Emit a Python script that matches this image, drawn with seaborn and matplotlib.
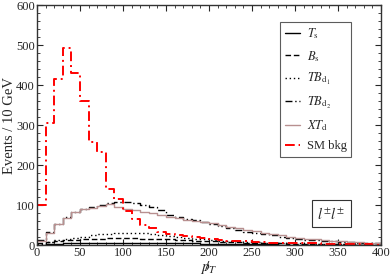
import numpy as np
import pandas as pd
import seaborn as sns
import matplotlib
matplotlib.use("Agg")
import matplotlib.pyplot as plt
from matplotlib.lines import Line2D
from matplotlib.ticker import MultipleLocator

# 10 GeV bins from 0 to 400
edges = list(range(0, 410, 10))
centers = [e + 5 for e in edges[:-1]]

T_s = [1, 2, 3, 4, 4, 5, 5, 6, 6, 6, 6, 6, 6, 5, 5, 5, 4, 4, 4, 3,
       3, 3, 3, 2, 2, 2, 2, 2, 1, 1, 1, 1, 1, 1, 1, 1, 0, 0, 0, 0]
B_s = [4, 8, 10, 12, 13, 14, 15, 16, 17, 17, 17, 17, 16, 16, 15, 14, 13, 12, 11, 10,
       9, 8, 7, 7, 6, 5, 5, 4, 4, 3, 3, 3, 2, 2, 2, 2, 1, 1, 1, 1]
TB_d1 = [3, 8, 12, 15, 18, 21, 24, 27, 28, 29, 30, 30, 29, 27, 25, 22, 20, 18, 16, 14,
         13, 11, 10, 9, 8, 7, 6, 5, 5, 4, 4, 3, 3, 3, 2, 2, 2, 1, 1, 1]
TB_d2 = [12, 33, 52, 69, 83, 90, 95, 99, 106, 108, 108, 104, 100, 96, 87, 75, 70, 66, 62, 58,
         52, 47, 42, 37, 33, 30, 27, 24, 21, 18, 15, 13, 12, 10, 9, 8, 7, 6, 5, 5]
XT_d = [10, 30, 52, 68, 82, 90, 93, 97, 102, 96, 90, 87, 82, 80, 75, 70, 67, 62, 60, 58,
        54, 50, 46, 42, 38, 34, 30, 27, 24, 21, 18, 16, 14, 12, 11, 9, 8, 7, 6, 5]
SM_bkg = [100, 305, 414, 492, 430, 360, 258, 232, 140, 115, 85, 64, 50, 42, 32, 28, 25, 22, 20, 17,
          14, 12, 11, 10, 9, 8, 7, 6, 6, 5, 5, 4, 4, 3, 3, 3, 2, 2, 2, 1]

labels = [r'$T_{\rm s}$', r'$B_{\rm s}$', r'$TB_{\rm d_1}$', r'$TB_{\rm d_2}$',
          r'$XT_{\rm d}$', 'SM bkg']

sns.set_style("ticks")
plt.rcParams['font.family'] = ['Liberation Serif', 'DejaVu Serif']
plt.rcParams['mathtext.fontset'] = 'stix'
plt.rcParams['font.size'] = 9

fig = plt.figure(figsize=(3.91, 2.78), dpi=100)
ax = fig.add_axes([0.0946, 0.1187, 0.8798, 0.8633])

series = [
    (T_s, 'black', '-', 1.0),
    (B_s, 'black', (0, (4, 2)), 1.0),
    (TB_d1, 'black', (0, (1, 2)), 1.0),
    (TB_d2, 'black', (0, (5, 2, 1, 2)), 1.0),
    (XT_d, '#b89090', '-', 1.0),
    (SM_bkg, '#ff0000', (0, (5, 2, 1, 2)), 1.4),
]

handles = []
for (vals, col, ls, lw), lab in zip(series, labels):
    df = pd.DataFrame({'met': centers, 'events': vals})
    sns.histplot(data=df, x='met', weights='events', bins=edges, element="step",
                 fill=False, color=col, linestyle=ls, linewidth=lw, ax=ax)
    handles.append(Line2D([], [], color=col, linestyle=ls, linewidth=lw))

ax.set_xlim(0, 400)
ax.set_ylim(0, 600)
ax.xaxis.set_major_locator(MultipleLocator(50))
ax.xaxis.set_minor_locator(MultipleLocator(10))
ax.yaxis.set_major_locator(MultipleLocator(100))
ax.yaxis.set_minor_locator(MultipleLocator(20))
ax.tick_params(which='both', direction='in', top=True, right=True, labelsize=9, pad=1.5)
ax.tick_params(which='major', length=4, width=0.8)
ax.tick_params(which='minor', length=2, width=0.6)
for s in ax.spines.values():
    s.set_linewidth(1.0)
    s.set_color('#333333')

ax.set_ylabel('Events / 10 GeV', fontsize=10.5, labelpad=0)
ax.set_xlabel(r'$/\!\!\!\!p_T$', fontsize=11, labelpad=0)

leg = ax.legend(handles, labels, loc='upper right', bbox_to_anchor=(0.913, 0.929),
                borderaxespad=0, fontsize=9, frameon=True, fancybox=False,
                handlelength=1.2, handletextpad=0.55, labelspacing=0.6, borderpad=0.35)
leg.get_frame().set_edgecolor('#333333')
leg.get_frame().set_linewidth(0.8)

ax.text(0.856, 0.131, r'$l^{\pm}l^{\pm}$', transform=ax.transAxes, fontsize=10.5,
        ha='center', va='center',
        bbox=dict(boxstyle='square,pad=0.35', fc='white', ec='#333333', lw=0.8))

fig.savefig('out.png', dpi=100)
